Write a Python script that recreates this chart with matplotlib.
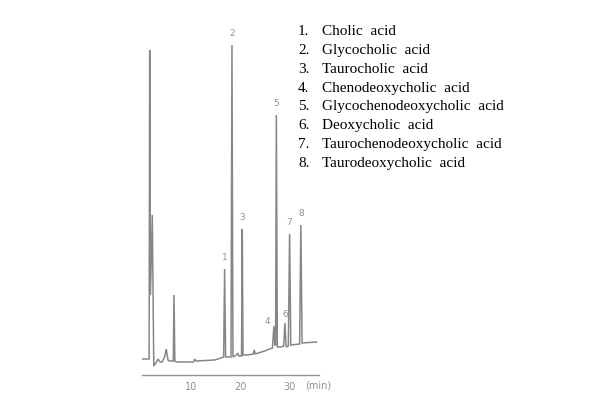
import matplotlib
matplotlib.use("Agg")
import matplotlib.pyplot as plt

# --- data ---
compound_names = [
    "Cholic  acid",
    "Glycocholic  acid",
    "Taurocholic  acid",
    "Chenodeoxycholic  acid",
    "Glycochenodeoxycholic  acid",
    "Deoxycholic  acid",
    "Taurochenodeoxycholic  acid",
    "Taurodeoxycholic  acid",
]
peak_numbers = ["1", "2", "3", "4", "5", "6", "7", "8"]
peak_times = [16.8, 18.3, 20.45, 26.9, 27.4, 29.15, 30.1, 32.4]
peak_heights = [106, 330, 146, 49, 260, 52, 141, 150]

trace_time = [0.0, 1.45, 1.57, 1.72, 2.1, 2.4, 2.8, 3.3, 3.7, 4.1, 4.6, 4.95,
              5.3, 5.6, 6.38, 6.53, 6.7, 7.0, 10.5, 10.75, 11.0, 14.8, 15.5,
              16.1, 16.65, 16.85, 17.05, 18.15, 18.35, 18.55, 19.3, 19.5, 19.8,
              20.3, 20.45, 20.6, 21.5, 22.7, 22.9, 23.1, 25.0, 26.6, 26.9, 27.1,
              27.25, 27.4, 27.6, 28.3, 28.9, 29.15, 29.4, 29.85, 30.1, 30.35,
              32.15, 32.4, 32.65, 35.6]
trace_signal = [16, 16, 325, 80, 160, 9, 12, 16, 13, 13, 18, 26,
                15, 14, 14, 80, 14, 13, 13, 16, 14, 15, 16,
                17, 18, 106, 18, 18, 330, 18, 20, 22, 19,
                19, 146, 20, 20, 21, 25, 21, 24, 27, 49, 30,
                30, 260, 28, 28, 29, 52, 28, 29, 141, 30,
                31, 150, 32, 33]

x_ticks = [10, 20, 30]
x_unit = "(min)"

# --- figure ---
W, H = 600, 400
fig = plt.figure(figsize=(6, 4), dpi=100)
ax = fig.add_axes([142 / W, 1 - 375 / H, 177 / W, 345 / H])
gray = "#868686"
ax.plot(trace_time, trace_signal, color=gray, lw=1.1, solid_joinstyle="miter")
ax.set_xlim(0, 36.1)
ax.set_ylim(0, 345)

for lab, t, h in zip(peak_numbers, peak_times, peak_heights):
    dx = -1.3 if lab == "4" else 0.0
    dy = 0 if lab == "4" else (4 if lab == "6" else 7)
    ax.text(t + dx, h + dy, lab, color="#909090", fontsize=6.5,
            ha="center", va="bottom", family="DejaVu Sans")

for s in ["left", "right", "top"]:
    ax.spines[s].set_visible(False)
ax.spines["bottom"].set_color("#909090")
ax.spines["bottom"].set_linewidth(1.0)
ax.set_yticks([])
ax.set_xticks(x_ticks)
ax.tick_params(axis="x", length=0, pad=5, labelsize=7, labelcolor="#909090")
ax.text(35.9, -11, x_unit, color="#909090", fontsize=7, ha="center", va="center")

# legend list
for i, name in enumerate(compound_names):
    yc = 1 - (31.7 + i * 18.8) / H
    fig.text(298 / W, yc, f"{i + 1}.", fontsize=11, family="Liberation Serif",
             color="black", ha="left", va="center")
    fig.text(322 / W, yc, name, fontsize=11, family="Liberation Serif",
             color="black", ha="left", va="center")

fig.savefig("out.png", dpi=100)
